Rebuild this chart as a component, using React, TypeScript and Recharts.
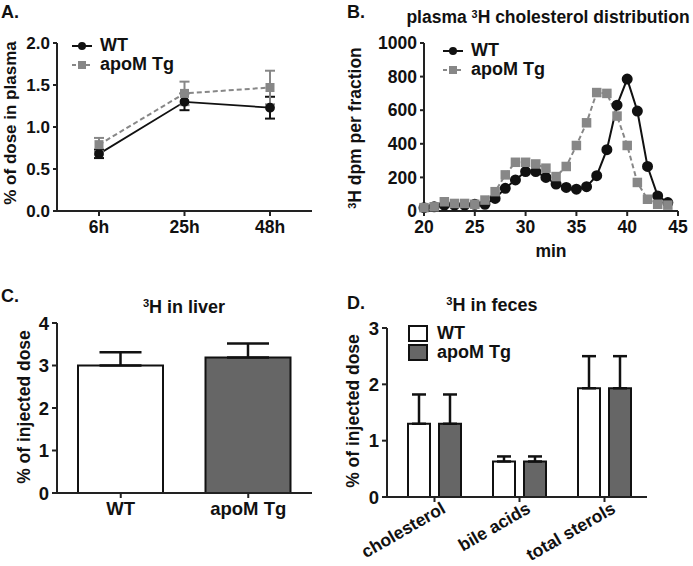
import React from 'react';
import { LineChart, Line, BarChart, Bar, Cell, XAxis, YAxis, ErrorBar, Legend } from 'recharts';

const FONT = '"Liberation Sans", Arial, Helvetica, sans-serif';
const INK = '#111';
const GREY_LINE = '#878787';
const GREY_BAR = '#666666';

// A. plasma decay
const timePoints = ['6h', '25h', '48h'];
const plasmaWT = [0.68, 1.3, 1.23];
const plasmaWTErr = [0.05, 0.1, 0.13];
const plasmaApoM = [0.79, 1.4, 1.47];
const plasmaApoMErr = [0.08, 0.14, 0.2];

// B. FPLC fractions
const fractionMin = [20, 21, 22, 23, 24, 25, 26, 27, 28, 29, 30, 31, 32, 33, 34, 35, 36, 37, 38, 39, 40, 41, 42, 43, 44];
const fractionWT = [20, 25, 35, 35, 35, 40, 40, 75, 135, 185, 235, 235, 200, 160, 140, 130, 145, 210, 365, 630, 785, 595, 265, 90, 50];
const fractionApoM = [20, 25, 55, 45, 45, 40, 65, 115, 215, 290, 290, 280, 255, 205, 265, 390, 525, 705, 700, 565, 390, 170, 70, 40, 35];
const fractionTicks = [20, 25, 30, 35, 40, 45];

// C. liver
const liverGroups = ['WT', 'apoM Tg'];
const liverMean = [3.0, 3.19];
const liverErr = [0.31, 0.33];

// D. feces
const fecesCategories = ['cholesterol', 'bile acids', 'total sterols'];
const fecesWT = [1.3, 0.63, 1.93];
const fecesWTErr = [0.52, 0.09, 0.57];
const fecesApoM = [1.3, 0.63, 1.93];
const fecesApoMErr = [0.52, 0.09, 0.57];

const plasmaData = timePoints.map((t, i) => ({
  time: t,
  wt: plasmaWT[i],
  wtErr: plasmaWTErr[i],
  apo: plasmaApoM[i],
  apoErr: plasmaApoMErr[i],
}));
const fractionData = fractionMin.map((m, i) => ({ min: m, wt: fractionWT[i], apo: fractionApoM[i] }));
const liverData = liverGroups.map((g, i) => ({ group: g, value: liverMean[i], err: [0, liverErr[i]] }));
const fecesData = fecesCategories.map((c, i) => ({
  name: c,
  wt: fecesWT[i],
  wtErr: [0, fecesWTErr[i]],
  apo: fecesApoM[i],
  apoErr: [0, fecesApoMErr[i]],
}));

const axisLine = { stroke: '#222', strokeWidth: 2 };
const tickLine = { stroke: '#222', strokeWidth: 2 };
const tickStyle = (size: number) => ({ fill: INK, fontSize: size, fontWeight: 700, fontFamily: FONT });

const squareDot = (fill: string, size: number) => (props: any) => {
  const { cx, cy, index } = props;
  if (cx == null || cy == null) return <g key={`sq-${index}`} />;
  return <rect key={`sq-${index}`} x={cx - size / 2} y={cy - size / 2} width={size} height={size} fill={fill} />;
};

const lineItems = [
  { name: 'WT', color: INK, dash: undefined, shape: 'circle' },
  { name: 'apoM Tg', color: GREY_LINE, dash: '4 3', shape: 'square' },
];

const LineLegend = () => (
  <div style={{ fontFamily: FONT, fontWeight: 700, fontSize: 18, color: INK }}>
    {lineItems.map((it) => (
      <div key={it.name} style={{ display: 'flex', alignItems: 'center', height: 19 }}>
        <svg width={22} height={12}>
          <line x1={1} y1={6} x2={21} y2={6} stroke={it.color} strokeWidth={2} strokeDasharray={it.dash} />
          {it.shape === 'circle' ? (
            <circle cx={11} cy={6} r={4} fill={it.color} />
          ) : (
            <rect x={7} y={2} width={8} height={8} fill={it.color} />
          )}
        </svg>
        <span style={{ marginLeft: 7 }}>{it.name}</span>
      </div>
    ))}
  </div>
);

const BarLegend = () => (
  <div style={{ fontFamily: FONT, fontWeight: 700, fontSize: 18, color: INK }}>
    {[
      { name: 'WT', fill: '#fff' },
      { name: 'apoM Tg', fill: GREY_BAR },
    ].map((it) => (
      <div key={it.name} style={{ display: 'flex', alignItems: 'center', height: 19 }}>
        <div style={{ width: 16, height: 13, border: '2px solid #111', background: it.fill }} />
        <span style={{ marginLeft: 9 }}>{it.name}</span>
      </div>
    ))}
  </div>
);

const SlantTick = (props: any) => {
  const { x, y, payload } = props;
  return (
    <g transform={`translate(${x + 6},${y - 3})`}>
      <text textAnchor="end" transform="rotate(-30)" dy="0.71em" fill={INK} fontSize={17.5} fontWeight={700} fontFamily={FONT}>
        {payload.value}
      </text>
    </g>
  );
};

const Abs = ({ left, top, size = 18, children, center = false }: any) => (
  <div
    style={{
      position: 'absolute',
      left,
      top,
      transform: center ? 'translate(-50%, -50%)' : undefined,
      whiteSpace: 'nowrap',
      fontFamily: FONT,
      fontWeight: 700,
      fontSize: size,
      color: INK,
      lineHeight: 1,
    }}
  >
    {children}
  </div>
);

const VText = ({ cx, cy, size = 17, children }: any) => (
  <div
    style={{
      position: 'absolute',
      left: cx,
      top: cy,
      transform: 'translate(-50%, -50%) rotate(-90deg)',
      whiteSpace: 'nowrap',
      fontFamily: FONT,
      fontWeight: 700,
      fontSize: size,
      color: INK,
      lineHeight: 1,
    }}
  >
    {children}
  </div>
);

const Sup = ({ children }: any) => <sup style={{ fontSize: '0.62em', verticalAlign: '0.5em', lineHeight: 0 }}>{children}</sup>;

export default function App() {
  return (
    <div style={{ position: 'absolute', left: 0, top: 0, width: 693, height: 566, background: '#fff', overflow: 'hidden' }}>
      {/* A */}
      <div style={{ position: 'absolute', left: 0, top: 0 }}>
        <LineChart width={330} height={250} data={plasmaData} margin={{ top: 43, right: 18, left: 0, bottom: 9 }}>
          <XAxis
            dataKey="time"
            height={30}
            padding={{ left: 42, right: 42 }}
            axisLine={axisLine}
            tickLine={tickLine}
            tickSize={5}
            tickMargin={5}
            tick={tickStyle(17.5)}
          />
          <YAxis
            width={57}
            domain={[0, 2]}
            ticks={[0, 0.5, 1, 1.5, 2]}
            tickFormatter={(v: number) => v.toFixed(1)}
            axisLine={axisLine}
            tickLine={tickLine}
            tickSize={4}
            tickMargin={3}
            tick={tickStyle(17)}
          />
          <Legend layout="vertical" align="center" verticalAlign="middle" wrapperStyle={{ left: 71, top: 36, width: 'auto' }} content={<LineLegend />} />
          <Line dataKey="wt" stroke={INK} strokeWidth={1.8} dot={{ r: 4, fill: INK, stroke: INK }} isAnimationActive={false}>
            <ErrorBar dataKey="wtErr" width={5} stroke={INK} strokeWidth={2} direction="y" />
          </Line>
          <Line dataKey="apo" stroke={GREY_LINE} strokeWidth={2} strokeDasharray="5 3" dot={squareDot(GREY_LINE, 9)} isAnimationActive={false}>
            <ErrorBar dataKey="apoErr" width={5} stroke={GREY_LINE} strokeWidth={2} direction="y" />
          </Line>
        </LineChart>
      </div>

      {/* B */}
      <div style={{ position: 'absolute', left: 345, top: 0 }}>
        <LineChart width={348} height={270} data={fractionData} margin={{ top: 43, right: 15, left: 0, bottom: 9 }}>
          <XAxis
            dataKey="min"
            type="number"
            domain={[20, 45]}
            ticks={fractionTicks}
            height={50}
            axisLine={axisLine}
            tickLine={tickLine}
            tickSize={5}
            tickMargin={5}
            tick={tickStyle(17.5)}
            label={{ value: 'min', position: 'insideBottom', offset: 4, fill: INK, fontSize: 17.5, fontWeight: 700, fontFamily: FONT }}
          />
          <YAxis
            width={79}
            domain={[0, 1000]}
            ticks={[0, 200, 400, 600, 800, 1000]}
            axisLine={axisLine}
            tickLine={tickLine}
            tickSize={4}
            tickMargin={3}
            tick={tickStyle(17.5)}
          />
          <Legend layout="vertical" align="center" verticalAlign="middle" wrapperStyle={{ left: 97, top: 41, width: 'auto' }} content={<LineLegend />} />
          <Line dataKey="wt" stroke={INK} strokeWidth={2} dot={{ r: 4.5, fill: INK, stroke: INK }} isAnimationActive={false} />
          <Line dataKey="apo" stroke={GREY_LINE} strokeWidth={2} strokeDasharray="5 3" dot={squareDot(GREY_LINE, 9.5)} isAnimationActive={false} />
        </LineChart>
      </div>

      {/* C */}
      <div style={{ position: 'absolute', left: 0, top: 280 }}>
        <BarChart width={330} height={286} data={liverData} margin={{ top: 43, right: 18, left: 0, bottom: 33 }}>
          <XAxis dataKey="group" height={40} axisLine={axisLine} tickLine={tickLine} tickSize={5} tickMargin={4} tick={tickStyle(18.5)} />
          <YAxis
            width={57}
            domain={[0, 4]}
            ticks={[0, 1, 2, 3, 4]}
            axisLine={axisLine}
            tickLine={tickLine}
            tickSize={5}
            tickMargin={3}
            tick={tickStyle(18.5)}
          />
          <Bar dataKey="value" barSize={85} stroke={INK} strokeWidth={2} isAnimationActive={false}>
            {liverData.map((d, i) => (
              <Cell key={d.group} fill={i === 0 ? '#fff' : GREY_BAR} />
            ))}
            <ErrorBar dataKey="err" width={21} stroke={INK} strokeWidth={2.5} direction="y" />
          </Bar>
        </BarChart>
      </div>

      {/* D */}
      <div style={{ position: 'absolute', left: 345, top: 280 }}>
        <BarChart width={348} height={286} data={fecesData} margin={{ top: 48, right: 46, left: 0, bottom: 9 }} barGap={9}>
          <XAxis
            dataKey="name"
            height={60}
            padding={{ left: 5, right: 0 }}
            axisLine={axisLine}
            tickLine={tickLine}
            tickSize={5}
            tick={<SlantTick />}
            interval={0}
          />
          <YAxis
            width={42}
            domain={[0, 3]}
            ticks={[0, 1, 2, 3]}
            axisLine={axisLine}
            tickLine={tickLine}
            tickSize={5}
            tickMargin={3}
            tick={tickStyle(18.5)}
          />
          <Legend layout="vertical" align="center" verticalAlign="middle" wrapperStyle={{ left: 63, top: 44, width: 'auto' }} content={<BarLegend />} />
          <Bar dataKey="wt" barSize={22} fill="#fff" stroke={INK} strokeWidth={2} isAnimationActive={false}>
            <ErrorBar dataKey="wtErr" width={7} stroke={INK} strokeWidth={2.5} direction="y" />
          </Bar>
          <Bar dataKey="apo" barSize={22} fill={GREY_BAR} stroke={INK} strokeWidth={2} isAnimationActive={false}>
            <ErrorBar dataKey="apoErr" width={7} stroke={INK} strokeWidth={2.5} direction="y" />
          </Bar>
        </BarChart>
      </div>

      {/* labels */}
      <Abs left={1} top={3} size={18}>A.</Abs>
      <Abs left={347} top={3} size={18}>B.</Abs>
      <Abs left={1} top={287} size={18}>C.</Abs>
      <Abs left={347} top={294} size={18}>D.</Abs>

      <Abs left={548} top={18} size={17.5} center>
        plasma <Sup>3</Sup>H cholesterol distribution
      </Abs>
      <Abs left={184} top={307} size={18} center>
        <Sup>3</Sup>H in liver
      </Abs>
      <Abs left={492} top={305} size={18} center>
        <Sup>3</Sup>H in feces
      </Abs>

      <VText cx={10} cy={123} size={17}>% of dose in plasma</VText>
      <VText cx={356} cy={128} size={17.5}>
        <Sup>3</Sup>H dpm per fraction
      </VText>
      <VText cx={25} cy={407} size={17.5}>% of injected dose</VText>
      <VText cx={354} cy={411} size={17.5}>% of injected dose</VText>
    </div>
  );
}
